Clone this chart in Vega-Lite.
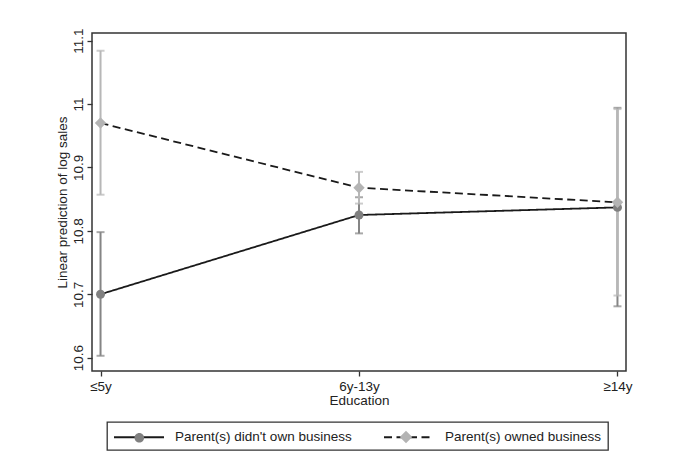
{
  "$schema": "https://vega.github.io/schema/vega-lite/v6.json",
  "width": 534,
  "height": 338,
  "autosize": {"type": "none"},
  "padding": {"left": 92, "top": 33, "right": 47, "bottom": 89},
  "background": "white",
  "data": {
    "values": [
      {"edu": "≤5y", "group": "Parent(s) didn't own business", "est": 10.700, "lo": 10.603, "hi": 10.798},
      {"edu": "6y-13y", "group": "Parent(s) didn't own business", "est": 10.825, "lo": 10.796, "hi": 10.853},
      {"edu": "≥14y", "group": "Parent(s) didn't own business", "est": 10.837, "lo": 10.681, "hi": 10.994},
      {"edu": "≤5y", "group": "Parent(s) owned business", "est": 10.970, "lo": 10.857, "hi": 11.084},
      {"edu": "6y-13y", "group": "Parent(s) owned business", "est": 10.868, "lo": 10.843, "hi": 10.893},
      {"edu": "≥14y", "group": "Parent(s) owned business", "est": 10.845, "lo": 10.698, "hi": 10.992}
    ]
  },
  "encoding": {
    "x": {
      "field": "edu",
      "type": "ordinal",
      "sort": ["≤5y", "6y-13y", "≥14y"],
      "scale": {"type": "point", "domain": ["≤5y", "6y-13y", "≥14y"], "padding": 0.033},
      "axis": {
        "title": "Education",
        "domain": false,
        "ticks": true,
        "tickSize": 5,
        "tickColor": "#333333",
        "tickWidth": 1.3,
        "labelAngle": 0,
        "labelPadding": 3,
        "titlePadding": 1,
        "grid": false
      }
    }
  },
  "layer": [
    {
      "transform": [{"filter": "datum.group === \"Parent(s) didn't own business\""}],
      "mark": {"type": "errorbar", "color": "#858585", "thickness": 2, "ticks": {"size": 8, "thickness": 2, "color": "#858585"}},
      "encoding": {
        "y": {
          "field": "lo",
          "type": "quantitative",
          "scale": {"domain": [10.579, 11.112], "nice": false, "zero": false},
          "title": "Linear prediction of log sales",
          "axis": {"title": "Linear prediction of log sales", "values": [10.6, 10.7, 10.8, 10.9, 11, 11.1]}
        },
        "y2": {"field": "hi"}
      }
    },
    {
      "transform": [{"filter": "datum.group === 'Parent(s) owned business'"}],
      "mark": {"type": "errorbar", "color": "#b7b7b7", "thickness": 2, "ticks": {"size": 8, "thickness": 2, "color": "#b7b7b7"}},
      "encoding": {
        "y": {"field": "lo", "type": "quantitative", "title": "Linear prediction of log sales"},
        "y2": {"field": "hi"}
      }
    },
    {
      "mark": {"type": "line", "color": "#1a1a1a", "strokeWidth": 1.8},
      "encoding": {
        "y": {"field": "est", "type": "quantitative", "title": "Linear prediction of log sales"},
        "strokeDash": {
          "field": "group",
          "type": "nominal",
          "scale": {"domain": ["Parent(s) didn't own business", "Parent(s) owned business"], "range": [[1, 0], [8, 4.5]]},
          "legend": {
            "orient": "none",
            "legendX": 15,
            "legendY": 389,
            "direction": "horizontal",
            "columns": 2,
            "title": null,
            "symbolType": "M-1,0H5.25",
            "symbolSize": 256,
            "symbolStrokeColor": "#1a1a1a",
            "symbolFillColor": "transparent",
            "symbolStrokeWidth": 1.8,
            "labelOffset": 44,
            "labelLimit": 400,
            "columnPadding": 28,
            "padding": 6,
            "strokeColor": "#333333",
            "fillColor": "white",
            "zindex": 1
          }
        }
      }
    },
    {
      "transform": [{"filter": "datum.group === \"Parent(s) didn't own business\""}],
      "mark": {"type": "point", "filled": true, "opacity": 1, "size": 80, "shape": "circle", "color": "#808080"},
      "encoding": {
        "y": {"field": "est", "type": "quantitative", "title": "Linear prediction of log sales"}
      }
    },
    {
      "transform": [{"filter": "datum.group === 'Parent(s) owned business'"}],
      "mark": {"type": "point", "filled": true, "opacity": 1, "size": 130, "shape": "diamond", "color": "#b4b4b4"},
      "encoding": {
        "y": {"field": "est", "type": "quantitative", "title": "Linear prediction of log sales"}
      }
    },
    {
      "mark": {"type": "point", "filled": true, "opacity": 0, "size": 256},
      "encoding": {
        "y": {"field": "est", "type": "quantitative", "title": "Linear prediction of log sales"},
        "color": {
          "field": "group",
          "type": "nominal",
          "scale": {"range": ["#808080", "#b4b4b4"]},
          "legend": {
            "orient": "none",
            "legendX": 15,
            "legendY": 389,
            "direction": "horizontal",
            "columns": 2,
            "title": null,
            "symbolSize": 256,
            "symbolOpacity": 1,
            "symbolStrokeWidth": 1.8,
            "symbolStrokeColor": "transparent",
            "labelOffset": 44,
            "labelExpr": "''",
            "columnPadding": 205,
            "padding": 6,
            "strokeColor": "transparent",
            "fillColor": "transparent",
            "zindex": 2
          }
        },
        "shape": {
          "field": "group",
          "type": "nominal",
          "scale": {"range": ["M1.5625,0A0.6,0.6 0 1,1 2.7625,0A0.6,0.6 0 1,1 1.5625,0Z", "M2.125,-0.78L2.905,0L2.125,0.78L1.345,0Z"]},
          "legend": {
            "orient": "none",
            "legendX": 15,
            "legendY": 389,
            "direction": "horizontal",
            "columns": 2,
            "title": null,
            "symbolSize": 256,
            "symbolOpacity": 1,
            "symbolStrokeWidth": 1.8,
            "symbolStrokeColor": "transparent",
            "labelOffset": 44,
            "labelExpr": "''",
            "columnPadding": 205,
            "padding": 6,
            "strokeColor": "transparent",
            "fillColor": "transparent",
            "zindex": 2
          }
        }
      }
    }
  ],
  "config": {
    "font": "Liberation Sans",
    "view": {"stroke": "#333333", "strokeWidth": 1.5},
    "axis": {
      "labelFont": "Liberation Sans",
      "titleFont": "Liberation Sans",
      "labelFontSize": 13.5,
      "titleFontSize": 13.5,
      "labelColor": "#222222",
      "titleColor": "#222222",
      "titleFontWeight": "normal"
    },
    "axisY": {
      "labelExpr": "toString(round(datum.value*10)/10)",
      "labelAngle": -90,
      "labelAlign": "center",
      "labelBaseline": "bottom",
      "domain": false,
      "grid": false,
      "tickSize": 5,
      "tickColor": "#333333",
      "tickWidth": 1.3,
      "labelPadding": 2,
      "titlePadding": 2
    },
    "legend": {
      "labelFont": "Liberation Sans",
      "labelFontSize": 13.5,
      "labelColor": "#222222",
      "strokeWidth": 1.3
    }
  }
}
